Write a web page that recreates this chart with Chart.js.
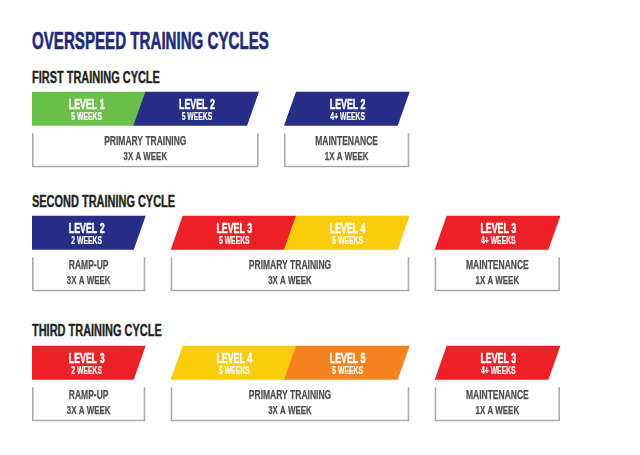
<!DOCTYPE html>
<html>
<head>
<meta charset="utf-8">
<script src="https://cdn.jsdelivr.net/npm/chart.js@4.4.1/dist/chart.umd.min.js"></script>
<style>
  html, body { margin: 0; padding: 0; background: #ffffff; }
  #wrap { position: relative; width: 640px; height: 455px; overflow: hidden; background: #fff; }
  .txt { position: absolute; left: 32px; white-space: nowrap; line-height: 1; font-family: "Liberation Sans", Arial, sans-serif; font-weight: bold; transform-origin: 0 0; }
  #title { top: 29px; font-size: 24px; color: #1f2a7a; transform: scaleX(0.63); -webkit-text-stroke: 0.6px #1f2a7a; }
  .head { font-size: 16px; color: #231f20; transform: scaleX(0.685); -webkit-text-stroke: 0.4px #231f20; }
  canvas.cyc { position: absolute; left: 0; }
</style>
</head>
<body>
<div id="wrap">
  <div id="title" class="txt">OVERSPEED TRAINING CYCLES</div>
</div>
<script>
// ---------- DATA ----------
const chartTitle = 'OVERSPEED TRAINING CYCLES';
const cycleNames = ['FIRST TRAINING CYCLE', 'SECOND TRAINING CYCLE', 'THIRD TRAINING CYCLE'];
const rowLabels = ['LEVELS', 'SCHEDULE'];

const cycle1Levels  = ['LEVEL 1', 'LEVEL 2', 'LEVEL 2'];
const cycle1Weeks   = ['5 WEEKS', '5 WEEKS', '4+ WEEKS'];
const cycle1PhaseOf = [0, 0, 1];
const cycle1Phases  = ['PRIMARY TRAINING', 'MAINTENANCE'];
const cycle1Freq    = ['3X A WEEK', '1X A WEEK'];

const cycle2Levels  = ['LEVEL 2', 'LEVEL 3', 'LEVEL 4', 'LEVEL 3'];
const cycle2Weeks   = ['2 WEEKS', '5 WEEKS', '5 WEEKS', '4+ WEEKS'];
const cycle2PhaseOf = [0, 1, 1, 2];
const cycle2Phases  = ['RAMP-UP', 'PRIMARY TRAINING', 'MAINTENANCE'];
const cycle2Freq    = ['3X A WEEK', '3X A WEEK', '1X A WEEK'];

const cycle3Levels  = ['LEVEL 3', 'LEVEL 4', 'LEVEL 5', 'LEVEL 3'];
const cycle3Weeks   = ['2 WEEKS', '5 WEEKS', '5 WEEKS', '4+ WEEKS'];
const cycle3PhaseOf = [0, 1, 1, 2];
const cycle3Phases  = ['RAMP-UP', 'PRIMARY TRAINING', 'MAINTENANCE'];
const cycle3Freq    = ['3X A WEEK', '3X A WEEK', '1X A WEEK'];

// ---------- STYLE / LAYOUT ----------
const levelColors = {
  'LEVEL 1': '#6abf4b',
  'LEVEL 2': '#262e86',
  'LEVEL 3': '#ec2027',
  'LEVEL 4': '#f9cc0c',
  'LEVEL 5': '#f4821f'
};
const PHASE_GAP = 0.33;     // gap between phase groups, in segment slots
const SKEW = 12;            // px slant of parallelograms
const BAR_H = 34;
const canvasTops = [88, 212, 342];
const headTops = [69.6, 193.9, 323.2];
const FONT = '"Liberation Sans", Arial, sans-serif';

const cycles = [
  { levels: cycle1Levels, weeks: cycle1Weeks, phaseOf: cycle1PhaseOf, phases: cycle1Phases, freq: cycle1Freq },
  { levels: cycle2Levels, weeks: cycle2Weeks, phaseOf: cycle2PhaseOf, phases: cycle2Phases, freq: cycle2Freq },
  { levels: cycle3Levels, weeks: cycle3Weeks, phaseOf: cycle3PhaseOf, phases: cycle3Phases, freq: cycle3Freq }
];

function condensedText(ctx, text, cx, baseline, font, color, sx, stroke) {
  ctx.save();
  ctx.font = font;
  ctx.fillStyle = color;
  ctx.strokeStyle = color;
  ctx.lineWidth = stroke;
  ctx.lineJoin = 'round';
  ctx.textAlign = 'center';
  ctx.textBaseline = 'alphabetic';
  ctx.translate(cx, baseline);
  ctx.scale(sx, 1);
  ctx.fillText(text, 0, 0);
  if (stroke > 0) ctx.strokeText(text, 0, 0);
  ctx.restore();
}

const shapesPlugin = {
  id: 'shapes',
  afterDatasetsDraw(chart) {
    const ctx = chart.ctx;
    const area = chart.chartArea;
    const cyc = chart.config.options.plugins.shapes.cycle;
    // segments (parallelograms)
    const segMeta = chart.getDatasetMeta(0);
    segMeta.data.forEach((el, i) => {
      const p = el.getProps(['x', 'base', 'y', 'height'], true);
      const x0 = Math.min(p.base, p.x), x1 = Math.max(p.base, p.x);
      const top = p.y - BAR_H / 2, bot = p.y + BAR_H / 2;
      ctx.save();
      ctx.beginPath();
      ctx.rect(area.left, 0, chart.width, chart.height);
      ctx.clip();
      ctx.beginPath();
      ctx.moveTo(x0, top);
      ctx.lineTo(x1 + 0.4, top);
      ctx.lineTo(x1 - SKEW + 0.4, bot);
      ctx.lineTo(x0 - SKEW, bot);
      ctx.closePath();
      ctx.fillStyle = levelColors[cyc.levels[i]];
      ctx.fill();
      ctx.restore();
      const cTop = (Math.max(x0, area.left) + x1) / 2;
      const cBot = (Math.max(x0 - SKEW, area.left) + x1 - SKEW) / 2;
      const cx = (cTop + cBot) / 2 + 1;
      condensedText(ctx, cyc.levels[i], cx, top + 17.3, 'bold 14px ' + FONT, '#ffffff', 0.63, 0.5);
      condensedText(ctx, cyc.weeks[i], cx, top + 27.8, 'bold 10px ' + FONT, '#ffffff', 0.68, 0.2);
    });
    // phase boxes (open-top brackets)
    const boxMeta = chart.getDatasetMeta(1);
    boxMeta.data.forEach((el, j) => {
      const p = el.getProps(['x', 'base', 'y', 'height'], true);
      const x0 = Math.max(Math.min(p.base, p.x) - SKEW, area.left);
      const x1 = Math.max(p.base, p.x);
      const top = p.y - BAR_H / 2, bot = p.y + BAR_H / 2;
      ctx.save();
      ctx.strokeStyle = '#ababab';
      ctx.lineWidth = 1.6;
      ctx.beginPath();
      ctx.moveTo(x0 + 0.8, top);
      ctx.lineTo(x0 + 0.8, bot - 0.8);
      ctx.lineTo(x1 - 0.8, bot - 0.8);
      ctx.lineTo(x1 - 0.8, top);
      ctx.stroke();
      ctx.restore();
      const cx = (x0 + x1) / 2;
      condensedText(ctx, cyc.phases[j], cx, top + 12, 'bold 12.5px ' + FONT, '#4d4d4d', 0.68, 0.25);
      condensedText(ctx, cyc.freq[j], cx, top + 27, 'bold 10.5px ' + FONT, '#4d4d4d', 0.755, 0.25);
    });
  }
};

const wrap = document.getElementById('wrap');

cycles.forEach((cyc, ci) => {
  const head = document.createElement('div');
  head.className = 'txt head';
  head.style.top = headTops[ci] + 'px';
  head.textContent = cycleNames[ci];
  wrap.appendChild(head);

  // slot positions derived from order and phase membership
  const segData = cyc.levels.map((lv, i) => {
    const s = i + cyc.phaseOf[i] * PHASE_GAP;
    return { x: [s, s + 1], y: rowLabels[0] };
  });
  const phaseData = cyc.phases.map((ph, j) => {
    const idx = cyc.phaseOf.map((p, i) => p === j ? i : -1).filter(i => i >= 0);
    const first = segData[idx[0]].x[0];
    const last = segData[idx[idx.length - 1]].x[1];
    return { x: [first, last], y: rowLabels[1] };
  });

  const cv = document.createElement('canvas');
  cv.className = 'cyc';
  cv.width = 640; cv.height = 83;
  cv.style.width = '640px'; cv.style.height = '83px';
  cv.style.top = canvasTops[ci] + 'px';
  wrap.appendChild(cv);

  new Chart(cv.getContext('2d'), {
    type: 'bar',
    data: {
      labels: rowLabels,
      datasets: [
        { label: 'Levels', data: segData, backgroundColor: 'rgba(0,0,0,0)', barThickness: BAR_H, grouped: false },
        { label: 'Schedule', data: phaseData, backgroundColor: 'rgba(0,0,0,0)', barThickness: BAR_H, grouped: false }
      ]
    },
    options: {
      indexAxis: 'y',
      responsive: false,
      animation: false,
      devicePixelRatio: 1,
      layout: { padding: { left: 32, right: 41.5, top: 0, bottom: 0 } },
      scales: {
        x: { type: 'linear', min: 0, max: 5, display: false },
        y: { type: 'category', display: false }
      },
      plugins: {
        legend: { display: false },
        tooltip: { enabled: false },
        shapes: { cycle: cyc }
      }
    },
    plugins: [shapesPlugin]
  });
});
</script>
</body>
</html>
